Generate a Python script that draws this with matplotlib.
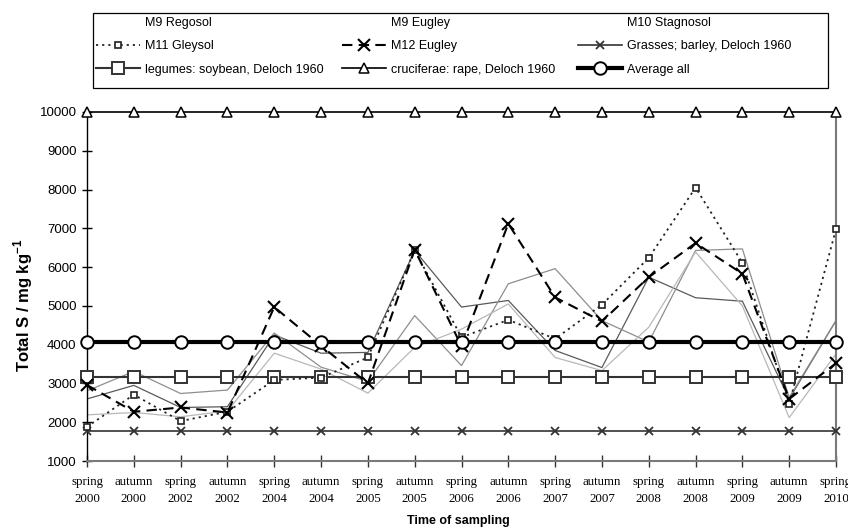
import matplotlib
matplotlib.use("Agg")
import matplotlib.pyplot as plt
from matplotlib.lines import Line2D
from matplotlib.patches import Rectangle
import numpy as np

plt.rcParams['font.family'] = ['Liberation Sans', 'DejaVu Sans']
plt.rcParams['mathtext.fontset'] = 'custom'
plt.rcParams['mathtext.rm'] = 'Liberation Sans'
plt.rcParams['mathtext.bf'] = 'Liberation Sans:bold'

# Sampling dates
seasons = ["spring", "autumn", "spring", "autumn", "spring", "autumn", "spring", "autumn",
           "spring", "autumn", "spring", "autumn", "spring", "autumn", "spring", "autumn", "spring"]
years = ["2000", "2000", "2002", "2002", "2004", "2004", "2005", "2005",
         "2006", "2006", "2007", "2007", "2008", "2008", "2009", "2009", "2010"]

# Total S (mg/kg) per site
m9_regosol = [2600, 2950, 2380, 2400, 4250, 3780, 3800, 6430, 4970, 5140, 3850, 3410,
              5740, 5210, 5120, 2600, 4620]
m9_eugley = [2810, 3310, 2740, 2830, 4300, 3420, 3050, 4750, 3460, 5570, 5960, 4620,
             4070, 6430, 6470, 2640, 4620]
m10_stagnosol = [2190, 2250, 2140, 2290, 3780, 3370, 2750, 3930, 4400, 5050, 3670, 3330,
                 4450, 6390, 5000, 2120, 3760]
m11_gleysol = [1880, 2710, 2030, 2270, 3090, 3150, 3670, 6430, 4190, 4640, 4150, 5030,
               6240, 8050, 6110, 2480, 6980]
m12_eugley = [2960, 2270, 2380, 2250, 4970, 3970, 3000, 6450, 3960, 7120, 5220, 4600,
              5740, 6620, 5830, 2600, 3520]

# Reference levels (Deloch 1960) and overall mean
grasses_barley = 1780
legumes_soybean = 3170
cruciferae_rape = 10000
average_all = 4070

x = np.arange(len(seasons))
n = len(x)

W, H = 848, 531
fig = plt.figure(figsize=(W / 100, H / 100), dpi=100)
ax = fig.add_axes([87 / W, (H - 461) / H, (836 - 87) / W, (461 - 112) / H])

h_m9r, = ax.plot(x, m9_regosol, color='#5a5a5a', lw=0.9, label='M9 Regosol')
h_m9e, = ax.plot(x, m9_eugley, color='#8e8e8e', lw=0.9, label='M9 Eugley')
h_m10, = ax.plot(x, m10_stagnosol, color='#b8b8b8', lw=0.9, label='M10 Stagnosol')

h_m11, = ax.plot(x, m11_gleysol, color='#222222', lw=1.3, ls=(0, (1.2, 2.2)),
                 marker='s', ms=5, mfc='white', mec='#222222', mew=1.2,
                 label='M11 Gleysol', clip_on=False, zorder=4)
h_m12, = ax.plot(x, m12_eugley, color='black', lw=1.5, ls=(0, (5, 3)),
                 marker='x', ms=8, mew=1.5, label='M12 Eugley', clip_on=False, zorder=4)

h_gr, = ax.plot(x, [grasses_barley] * n, color='#333333', lw=1.2, marker='x', ms=6,
                mew=1.3, label='Grasses; barley, Deloch 1960', clip_on=False, zorder=3)
h_le, = ax.plot(x, [legumes_soybean] * n, color='#333333', lw=1.5, marker='s', ms=9,
                mfc='white', mec='#333333', mew=1.4,
                label='legumes: soybean, Deloch 1960', clip_on=False, zorder=3)
h_cr, = ax.plot(x, [cruciferae_rape] * n, color='black', lw=1.2, marker='^', ms=7,
                mfc='white', mec='black', mew=1.1,
                label='cruciferae: rape, Deloch 1960', clip_on=False, zorder=3)
h_av, = ax.plot(x, [average_all] * n, color='black', lw=3, marker='o', ms=9,
                mfc='white', mec='black', mew=1.4, label='Average all',
                clip_on=False, zorder=5)

ax.set_xlim(0, n - 1)
ax.set_ylim(1000, 10000)
ax.set_yticks(np.arange(1000, 10001, 1000))
ax.set_xticks(x)
ax.set_xticklabels([f"{s}\n{y}" for s, y in zip(seasons, years)],
                   family='Liberation Serif', fontsize=9.3, linespacing=1.5)
ax.tick_params(axis='y', direction='inout', length=7, width=1, labelsize=9.5, pad=4)
ax.tick_params(axis='x', direction='inout', length=8, width=1, pad=7, color='#333333')

ax.spines['left'].set_color('black')
ax.spines['left'].set_linewidth(1.0)
for side in ('bottom', 'right', 'top'):
    ax.spines[side].set_color('#7a7a7a')
    ax.spines[side].set_linewidth(1.5)
ax.spines['top'].set_visible(False)

fig.text(23 / W, 1 - 305 / H, r'Total S / mg kg$^{\mathbf{-1}}$', rotation=90,
         ha='center', va='center', fontsize=12, fontweight='bold')
fig.text(458 / W, 1 - 521 / H, 'Time of sampling', ha='center', va='center',
         fontsize=9, fontweight='bold')

# Legend: three columns inside one frame
def blank(label):
    return Line2D([], [], color='none', label=label)

columns = [
    (96, [blank(h_m9r.get_label()), h_m11, h_le]),
    (342, [blank(h_m9e.get_label()), h_m12, h_cr]),
    (578, [blank(h_m10.get_label()), h_gr, h_av]),
]
for x0, col in columns:
    lg = fig.legend(handles=col, labels=[h.get_label() for h in col],
                    loc='upper left', bbox_to_anchor=(x0 / W, 1 - 17 / H),
                    frameon=False, fontsize=9, handlelength=3.5, handletextpad=0.4,
                    labelspacing=0.9, borderpad=0, borderaxespad=0)

fig.add_artist(Rectangle((93 / W, 1 - 88 / H), (828 - 93) / W, (88 - 13) / H,
                         transform=fig.transFigure, fill=False, ec='black', lw=0.9))

fig.savefig('out.png', dpi=100)
